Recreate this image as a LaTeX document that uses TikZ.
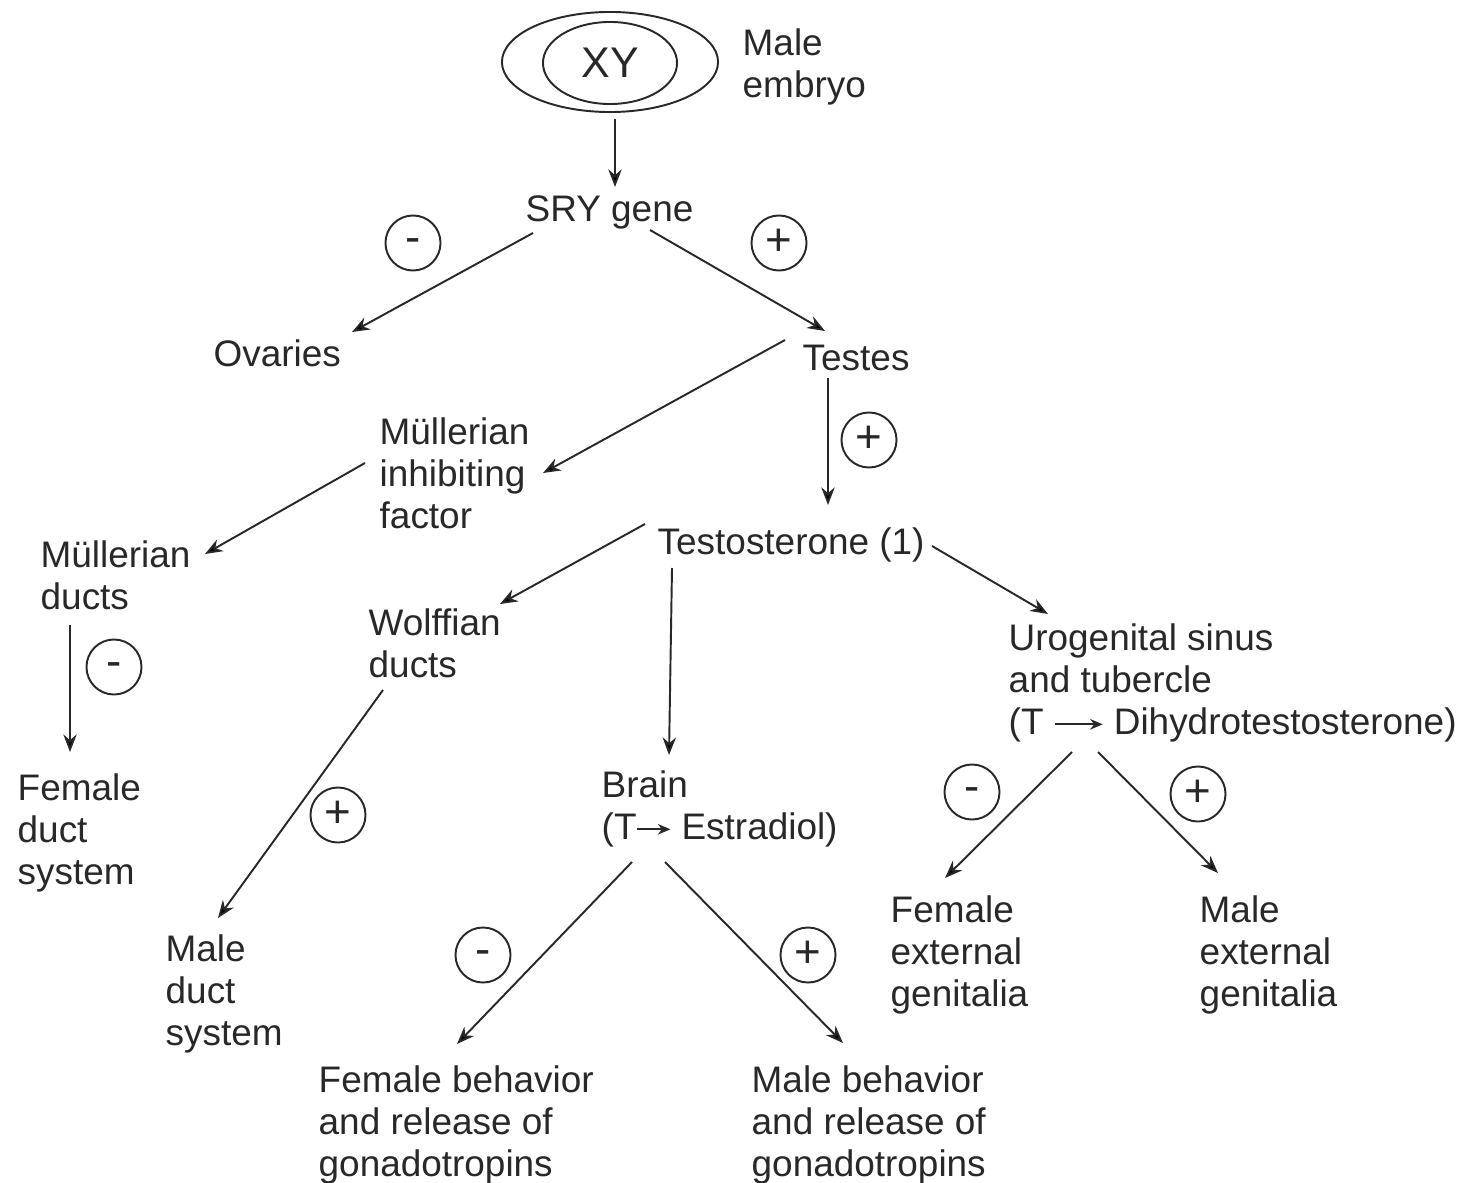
\documentclass[tikz,border=0pt]{standalone}
\usepackage{fontspec}
\setmainfont{Liberation Sans}
\usetikzlibrary{arrows.meta,shapes.geometric}

\definecolor{ink}{RGB}{40,40,40}

% small conversion arrow used inside the labels
\newcommand{\convarrow}[1]{\tikz[baseline=-2.9pt]\draw[ink,line width=0.5pt,-{Stealth[length=3.6pt,width=3pt]}] (0,0) -- (#1,0);}

\begin{document}
\begin{tikzpicture}[x=0.01cm,y=-0.01cm,
    lbl/.style={anchor=north west,inner sep=0pt,align=left,text=ink,
                font=\fontsize{10.5}{11.95}\selectfont},
    sgn/.style={draw=ink,circle,inner sep=0pt,minimum size=0.55cm,line width=0.55pt,
                text=ink,font=\fontsize{13}{14}\selectfont,text depth=0pt},
    plusmark/.style={sgn,text height=0.706em,node contents={+}},
    minusmark/.style={sgn,text height=0.545em,node contents={-}},
    arr/.style={draw=ink,line width=0.55pt,-{Stealth[length=5pt,width=3.8pt]}},
    cellring/.style={draw=ink,ellipse,line width=0.55pt,inner sep=0pt}]

    \useasboundingbox (0,0) rectangle (1461,1182);

    % embryo
    \node[cellring,minimum width=2.16cm,minimum height=1.0cm] (cell) at (610,62) {};
    \node[cellring,minimum width=1.34cm,minimum height=0.82cm,text=ink,
          font=\fontsize{12.2}{14}\selectfont] (xy) at (610,63) {XY};
    \node[lbl] (embryo) at (742,28) {Male\\embryo};

    % labels
    \node[lbl] (sry) at (525,195) {SRY gene};
    \node[lbl] (ovaries) at (213,339) {Ovaries};
    \node[lbl] (testes) at (802,344) {Testes};
    \node[lbl] (mif) at (379,417) {Müllerian\\inhibiting\\factor};
    \node[lbl] (mduct) at (40,540) {Müllerian\\ducts};
    \node[lbl] (fduct) at (17,773) {Female\\duct\\system};
    \node[lbl] (testo) at (657,527) {Testosterone (1)};
    \node[lbl] (wolff) at (368,608) {Wolffian\\ducts};
    \node[lbl] (mdsys) at (165,934) {Male\\duct\\system};
    \node[lbl] (brain) at (601,770) {Brain\\(T\convarrow{0.33cm} Estradiol)};
    \node[lbl] (fbeh) at (318,1065) {Female behavior\\and release of\\gonadotropins};
    \node[lbl] (mbeh) at (751,1065) {Male behavior\\and release of\\gonadotropins};
    \node[lbl] (uro) at (1008,623) {Urogenital sinus\\and tubercle\\(T \convarrow{0.48cm} Dihydrotestosterone)};
    \node[lbl] (fgen) at (890,895) {Female\\external\\genitalia};
    \node[lbl] (mgen) at (1199,895) {Male\\external\\genitalia};

    % plus / minus marks
    \foreach \nm/\cx/\cy/\s in {sa/413/243/minusmark, sb/779/243/plusmark, sc/869/440/plusmark,
                               sd/114/667/minusmark, se/338/815/plusmark, sf/483/955/minusmark,
                               sg/808/955/plusmark, sh/972/792/minusmark, si/1198/794/plusmark}
        \node (\nm) at (\cx,\cy) [\s];

    % arrows
    \draw[arr] ([shift={(5,6)}]cell.south) -- ([shift={(90,-8)}]sry.north west);
    \draw[arr] ([shift={(8,38)}]sry.north west) -- ([shift={(139,-7)}]ovaries.north west);
    \draw[arr] ([shift={(125,35)}]sry.north west) -- ([shift={(23,-13)}]testes.north west);
    \draw[arr] ([shift={(-17,-4)}]testes.north west) -- ([shift={(164,56)}]mif.north west);
    \draw[arr] ([shift={(26,34)}]testes.north west) -- ([shift={(171,-22)}]testo.north west);
    \draw[arr] ([shift={(-14,46)}]mif.north west) -- ([shift={(165,14)}]mduct.north west);
    \draw[arr] ([shift={(30,85)}]mduct.north west) -- ([shift={(53,-21)}]fduct.north west);
    \draw[arr] ([shift={(-12,-3)}]testo.north west) -- ([shift={(132,-4)}]wolff.north west);
    \draw[arr] ([shift={(15,41)}]testo.north west) -- ([shift={(68,-15)}]brain.north west);
    \draw[arr] ([shift={(275,19)}]testo.north west) -- ([shift={(40,-9)}]uro.north west);
    \draw[arr] ([shift={(15,82)}]wolff.north west) -- ([shift={(53,-16)}]mdsys.north west);
    \draw[arr] ([shift={(31,92)}]brain.north west) -- ([shift={(139,-21)}]fbeh.north west);
    \draw[arr] ([shift={(64,92)}]brain.north west) -- ([shift={(92,-22)}]mbeh.north west);
    \draw[arr] ([shift={(64,129)}]uro.north west) -- ([shift={(55,-17)}]fgen.north west);
    \draw[arr] ([shift={(90,129)}]uro.north west) -- ([shift={(19,-22)}]mgen.north west);

\end{tikzpicture}
\end{document}
